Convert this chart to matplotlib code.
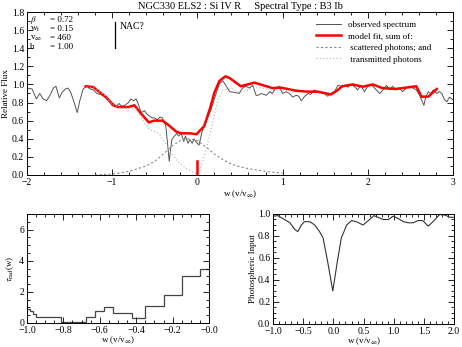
import numpy as np
import matplotlib.pyplot as plt
from matplotlib.ticker import MultipleLocator

plt.rcParams['font.family'] = ['Liberation Serif', 'DejaVu Serif']
plt.rcParams['mathtext.fontset'] = 'stix'
plt.rcParams['font.size'] = 6.5

# observed spectrum
obs_w = [-2.00, -1.94, -1.89, -1.85, -1.81, -1.77, -1.73, -1.69, -1.66, -1.62,
         -1.59, -1.55, -1.52, -1.49, -1.46, -1.41, -1.38, -1.34, -1.30, -1.26,
         -1.22, -1.18, -1.14, -1.10, -1.07, -1.03, -0.99, -0.95, -0.92, -0.89,
         -0.85, -0.81, -0.78, -0.75, -0.72, -0.70, -0.66, -0.62, -0.59, -0.56,
         -0.53, -0.50, -0.47, -0.44, -0.41, -0.37, -0.35, -0.33, -0.32, -0.30,
         -0.27, -0.24, -0.22, -0.19, -0.16, -0.14, -0.11, -0.09, -0.06, -0.04,
         -0.01, 0.02, 0.05, 0.08, 0.11, 0.16, 0.22, 0.26, 0.30, 0.34,
         0.38, 0.45, 0.49, 0.53, 0.57, 0.61, 0.65, 0.69, 0.71, 0.75,
         0.81, 0.85, 0.88, 0.92, 0.96, 1.00, 1.04, 1.08, 1.12, 1.16,
         1.19, 1.22, 1.26, 1.30, 1.33, 1.37, 1.41, 1.45, 1.49, 1.53,
         1.57, 1.61, 1.65, 1.69, 1.73, 1.77, 1.80, 1.84, 1.88, 1.92,
         1.96, 2.00, 2.05, 2.10, 2.14, 2.18, 2.22, 2.26, 2.29, 2.33,
         2.37, 2.41, 2.45, 2.49, 2.53, 2.57, 2.61, 2.63, 2.66, 2.68,
         2.71, 2.74, 2.77, 2.81, 2.84, 2.87, 2.90, 2.93, 2.96, 3.00]
obs_f = [0.96, 0.95, 0.84, 0.90, 0.84, 0.82, 0.88, 0.96, 0.98, 0.85,
         0.91, 0.95, 0.96, 0.92, 0.84, 0.69, 0.82, 0.95, 0.98, 0.95,
         0.94, 0.90, 0.89, 0.87, 0.84, 0.82, 0.79, 0.76, 0.79, 0.76,
         0.77, 0.80, 0.84, 0.82, 0.84, 0.80, 0.69, 0.71, 0.67, 0.65,
         0.63, 0.63, 0.61, 0.64, 0.63, 0.54, 0.35, 0.15, 0.24, 0.39,
         0.43, 0.46, 0.43, 0.46, 0.37, 0.43, 0.35, 0.39, 0.35, 0.40,
         0.36, 0.33, 0.46, 0.54, 0.61, 0.72, 0.90, 1.01, 1.04, 0.98,
         0.92, 0.91, 0.90, 0.96, 0.98, 0.96, 0.99, 0.88, 0.88, 0.90,
         0.88, 0.92, 0.90, 0.96, 0.98, 0.90, 0.92, 0.90, 0.86, 0.88,
         0.87, 0.82, 0.87, 0.90, 0.89, 0.94, 0.92, 0.92, 0.90, 0.87,
         0.90, 0.92, 0.99, 0.98, 0.99, 0.97, 1.00, 0.98, 0.94, 0.99,
         0.92, 0.98, 0.99, 0.94, 0.90, 0.94, 0.99, 0.94, 0.98, 0.94,
         0.96, 0.92, 0.96, 0.98, 0.96, 0.94, 0.88, 0.83, 0.77, 0.86,
         0.92, 0.90, 0.94, 0.90, 0.92, 0.90, 0.83, 0.81, 0.86, 0.83]

# model fit
fit_w = [-1.31, -1.22, -1.14, -1.07, -0.99, -0.93, -0.81, -0.74, -0.68, -0.57,
         -0.51, -0.41, -0.35, -0.25, -0.19, -0.09, -0.01, 0.08, 0.15, 0.20,
         0.26, 0.33, 0.38, 0.51, 0.67, 0.88, 0.98, 1.16, 1.31, 1.41,
         1.57, 1.65, 1.70, 1.82, 1.94, 2.06, 2.17, 2.33, 2.57, 2.63,
         2.71, 2.81]
fit_f = [0.98, 0.97, 0.91, 0.86, 0.77, 0.75, 0.75, 0.77, 0.70, 0.58,
         0.60, 0.60, 0.56, 0.48, 0.46, 0.46, 0.45, 0.54, 0.74, 0.91,
         1.04, 1.09, 1.07, 0.98, 1.02, 0.96, 0.965, 0.93, 0.92, 0.92,
         0.89, 0.94, 0.98, 1.00, 0.975, 1.00, 0.96, 0.95, 0.98, 0.865,
         0.865, 0.95]

# scattered photons
scat_w = [-1.20, -1.00, -0.80, -0.60, -0.50, -0.40, -0.30, -0.20, -0.10, 0.00,
          0.10, 0.20, 0.30, 0.40, 0.50, 0.60, 0.80, 1.00]
scat_f = [0.00, 0.01, 0.04, 0.10, 0.15, 0.23, 0.32, 0.38, 0.40, 0.38,
          0.31, 0.23, 0.17, 0.12, 0.09, 0.07, 0.04, 0.02]

# transmitted photons
trans_w = [-1.30, -1.20, -1.10, -1.00, -0.90, -0.80, -0.72, -0.65, -0.56, -0.45,
           -0.35, -0.25, -0.13, -0.03, 0.02, 0.08, 0.14, 0.24, 0.30, 0.40,
           0.50, 0.70, 0.90, 1.10]
trans_f = [0.97, 0.96, 0.89, 0.78, 0.74, 0.74, 0.73, 0.62, 0.50, 0.46,
           0.31, 0.17, 0.07, 0.02, 0.02, 0.20, 0.42, 0.83, 0.94, 0.96,
           0.91, 0.97, 0.94, 0.93]

# radial optical depth (step)
tau_edges = [-1.0, -0.985, -0.965, -0.95, -0.815, -0.675, -0.625, -0.575, -0.525,
             -0.475, -0.425, -0.35, -0.25, -0.15, -0.05, 0.0]
tau_vals = [0.92, 0.75, 0.55, 0.38, 0.05, 0.38, 0.77, 1.03, 0.67, 0.62,
            0.32, 1.07, 1.83, 3.03, 3.5]

# photospheric input
phot_w = [-1.00, -0.92, -0.81, -0.72, -0.64, -0.59, -0.53, -0.48, -0.39, -0.31,
          -0.23, -0.17, -0.09, -0.01, 0.06, 0.13, 0.22, 0.30, 0.38, 0.49,
          0.58, 0.67, 0.74, 0.82, 0.91, 0.99, 1.07, 1.16, 1.24, 1.32,
          1.40, 1.48, 1.57, 1.65, 1.76, 1.85, 1.93, 2.00]
phot_f = [0.98, 0.985, 0.95, 0.92, 0.86, 0.84, 0.90, 0.93, 0.93, 0.90,
          0.84, 0.78, 0.55, 0.30, 0.55, 0.78, 0.90, 0.94, 0.93, 0.90,
          0.94, 0.985, 0.97, 0.95, 0.95, 0.98, 0.96, 0.93, 0.92, 0.92,
          0.94, 0.94, 0.89, 0.93, 0.995, 0.99, 0.97, 0.97]

params = [(r'$\beta$', '= 0.72'), (r'w$_{\rm t}$', '= 0.15'),
          (r'v$_\infty$', '= 460'), ('b', '= 1.00')]

wlabel = r'w (v/v$_\infty$)'


def fmt(vals):
    return [f'{v:.1f}'.replace('-', '\u2212') for v in vals]


def style(ax):
    ax.tick_params(which='both', direction='in', top=True, right=True,
                   labelsize=7, width=0.6, pad=2)
    ax.tick_params(which='major', length=4)
    ax.tick_params(which='minor', length=2)
    for s in ax.spines.values():
        s.set_linewidth(0.7)


fig = plt.figure(figsize=(4.62, 3.47), dpi=100)

# top panel
ax = fig.add_axes([0.0584, 0.4957, 0.922, 0.4697])
ax.plot(obs_w, obs_f, color='#555555', lw=0.7, label='observed spectrum')
ax.plot(fit_w, fit_f, color='#ff0000', lw=1.8, label='model fit, sum of:')
ax.plot(scat_w, scat_f, color='#888888', lw=0.8, ls=(0, (2, 2)),
        label=' scattered photons; and')
ax.plot(trans_w, trans_f, color='#b0b0b0', lw=0.8, ls=(0, (1, 2)),
        label=' transmitted photons')
ax.plot([0, 0], [0, 0.15], color='#ff0000', lw=1.8)
ax.plot([-0.965, -0.965], [1.40, 1.69], color='black', lw=0.9)
ax.text(-0.915, 1.64, 'NAC?', fontsize=7, va='center')
for i, (name, val) in enumerate(params):
    ax.text(0.008, 0.95 - i * 0.055, name, transform=ax.transAxes,
            fontsize=6.5, va='center')
    ax.text(0.054, 0.95 - i * 0.055, val, transform=ax.transAxes,
            fontsize=6.5, va='center')
ax.set_xlim(-2, 3)
ax.set_ylim(0, 1.8)
ax.xaxis.set_major_locator(MultipleLocator(1))
ax.xaxis.set_minor_locator(MultipleLocator(0.2))
ax.yaxis.set_minor_locator(MultipleLocator(0.1))
ax.set_yticks(np.arange(0, 1.81, 0.2))
ax.set_yticklabels(fmt(np.arange(0, 1.81, 0.2)))
ax.set_xlabel(wlabel, fontsize=6.5, labelpad=1)
ax.set_ylabel('Relative Flux', fontsize=6.5, labelpad=1)
ax.set_title('NGC330 ELS2 : Si IV R     Spectral Type : B3 Ib', fontsize=7.5, pad=2)
ax.legend(loc='upper right', frameon=False, fontsize=6.5, handlelength=2.8,
          labelspacing=0.35, borderaxespad=0.3, bbox_to_anchor=(0.965, 0.985))
style(ax)

# bottom left: tau_rad
ax2 = fig.add_axes([0.0584, 0.0692, 0.394, 0.314])
ax2.stairs(tau_vals, tau_edges, color='#444444', lw=0.9, baseline=None)
ax2.set_xlim(-1.0, 0.0)
ax2.set_ylim(0, 7)
ax2.xaxis.set_minor_locator(MultipleLocator(0.05))
ax2.yaxis.set_major_locator(MultipleLocator(2))
ax2.yaxis.set_minor_locator(MultipleLocator(0.5))
ax2.set_xticks(np.arange(-1.0, 0.01, 0.2))
ax2.set_xticklabels(fmt(np.arange(-1.0, 0.01, 0.2)))
ax2.set_xlabel(wlabel, fontsize=6.5, labelpad=0)
ax2.set_ylabel(r'$\tau_{\rm rad}$(w)', fontsize=6.5, labelpad=2)
style(ax2)

# bottom right: photospheric input
ax3 = fig.add_axes([0.591, 0.0663, 0.392, 0.317])
ax3.plot(phot_w, phot_f, color='#333333', lw=0.8)
ax3.set_xlim(-1.0, 2.0)
ax3.set_ylim(0, 1.0)
ax3.xaxis.set_minor_locator(MultipleLocator(0.1))
ax3.yaxis.set_minor_locator(MultipleLocator(0.05))
ax3.set_xticks(np.arange(-1.0, 2.01, 0.5))
ax3.set_xticklabels(fmt(np.arange(-1.0, 2.01, 0.5)))
ax3.set_yticks(np.arange(0, 1.01, 0.2))
ax3.set_yticklabels(fmt(np.arange(0, 1.01, 0.2)))
ax3.set_xlabel(wlabel, fontsize=6.5, labelpad=0)
ax3.set_ylabel('Photospheric Input', fontsize=6.5, labelpad=1)
style(ax3)

fig.savefig('out.png', dpi=100)
